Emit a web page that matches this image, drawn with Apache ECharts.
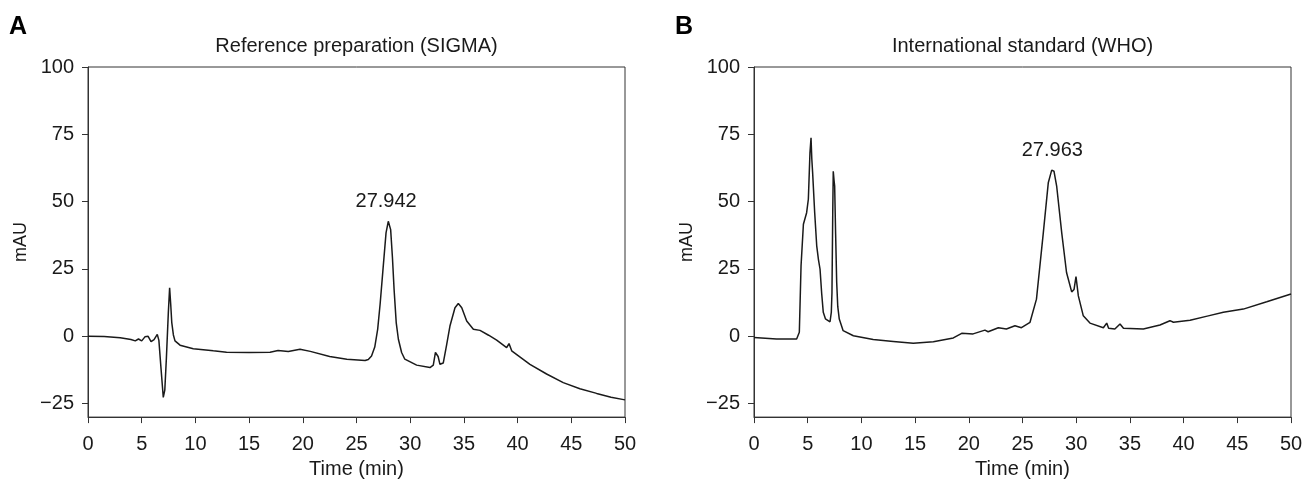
<!DOCTYPE html>
<html>
<head>
<meta charset="utf-8">
<script src="https://cdn.jsdelivr.net/npm/echarts@6/dist/echarts.min.js"></script>
<style>
html,body{margin:0;padding:0;background:#fff;}
#chart{width:1313px;height:484px;}
</style>
</head>
<body>
<div id="chart"></div>
<script>
// ---- Data ----
const panelLetters = ['A', 'B'];
const panelTitles = ['Reference preparation (SIGMA)', 'International standard (WHO)'];
const xTicks = [0, 5, 10, 15, 20, 25, 30, 35, 40, 45, 50];
const yTicks = [-25, 0, 25, 50, 75, 100];

const timeA = [0,1.5,3.0,4.0,4.4,4.7,5.0,5.3,5.6,5.87,6.15,6.45,6.6,6.8,7.01,7.15,7.3,7.48,7.6,7.7,7.8,7.95,8.1,8.57,9.8,11.67,12.9,15,16.95,17.7,18.65,19.74,20.7,22.5,24.1,25.8,26.1,26.4,26.7,26.97,27.2,27.45,27.75,27.96,28.18,28.35,28.5,28.7,28.9,29.2,29.5,30.6,31.84,32.15,32.35,32.46,32.6,32.77,33.08,33.4,33.7,34.17,34.48,34.8,35.26,35.88,36.5,37.3,38.05,38.98,39.2,39.45,41.15,42.7,44.25,45.8,47.36,48.7,50];
const mauA  = [0,-0.1,-0.5,-1.2,-1.7,-1.0,-1.7,-0.2,0,-2.0,-1.2,0.7,-1.5,-12,-22.7,-20,-8,8.8,18.0,12,5.1,0.5,-1.7,-3.3,-4.6,-5.4,-5.9,-6.0,-5.9,-5.3,-5.6,-4.8,-5.6,-7.5,-8.5,-9.0,-8.6,-7.3,-4.0,2.6,12,24,38.4,42.7,39.6,29,17.4,5,-1.1,-6,-8.5,-10.7,-11.6,-10.7,-6,-5.4,-7.5,-10.4,-9.9,-3,3.8,10.6,12.2,10.6,5.7,2.6,2.2,0.4,-1.4,-4.2,-2.7,-5.4,-10.4,-14,-17.2,-19.5,-21.2,-22.6,-23.6];

const timeB = [0,2.1,3.97,4.22,4.38,4.6,4.9,5.06,5.21,5.31,5.38,5.46,5.65,5.84,6.0,6.15,6.3,6.45,6.65,6.83,7.08,7.2,7.26,7.33,7.38,7.45,7.51,7.6,7.7,7.8,7.94,8.3,9.25,11.1,12.97,14.83,16.7,18.56,19.34,20.4,21.5,21.8,22.75,23.5,24.3,24.9,25.7,26.3,26.94,27.4,27.72,27.93,28.18,28.65,29.1,29.58,29.8,29.98,30.2,30.66,31.28,32.53,32.84,33.02,33.6,34.08,34.4,36.25,37.8,38.73,39.05,40.6,42.2,43.7,45.56,47.74,50];
const mauB  = [-0.4,-1.0,-1.0,1.5,26.1,41.6,45.9,50.9,68.1,73.7,66,60.7,46,33.6,28.5,24.9,16,8.9,6.5,5.8,5.4,9,16.3,45,61.3,58,55.8,38,20,11,6.4,2.1,0.2,-1.2,-1.9,-2.6,-2.0,-0.6,1.1,0.9,2.3,1.7,3.2,2.7,3.9,3.2,5.2,13.8,38.5,57,61.7,61.3,55.8,38.5,23.7,16.5,17.4,22.2,15,7.6,4.9,3.2,4.9,3.0,2.7,4.6,3.0,2.7,4.2,5.8,5.2,6.0,7.5,8.9,10.1,12.8,15.7];

const peakLabels = ['27.942', '27.963'];
const peakTimes  = [27.942, 27.963];
const peakValues = [42.7, 61.7];

// ---- Chart ----
const FONT = "'Liberation Sans', Arial, Helvetica, sans-serif";
const INK = '#1a1a1a';
const AX = '#333';

const lefts = [88, 754];
const plotW = 537;

function pairs(t, v) { return t.map((x, i) => [x, v[i]]); }
const seriesData = [pairs(timeA, mauA), pairs(timeB, mauB)];

const grids = [], xAxes = [], yAxes = [], series = [], graphics = [];
for (let i = 0; i < 2; i++) {
  grids.push({
    left: lefts[i], width: plotW, top: 67, height: 351,
    show: true, borderColor: AX, borderWidth: 1, backgroundColor: 'transparent'
  });
  xAxes.push({
    type: 'value', gridIndex: i, min: 0, max: 50, interval: 5,
    name: 'Time (min)', nameLocation: 'middle', nameGap: 40,
    nameTextStyle: { fontFamily: FONT, fontSize: 20, color: INK },
    axisLine: { show: true, onZero: false, lineStyle: { color: AX, width: 1 } },
    axisTick: { show: true, inside: false, length: 6, lineStyle: { color: AX } },
    axisLabel: { fontFamily: FONT, fontSize: 20, color: INK, margin: 17,
      customValues: xTicks },
    splitLine: { show: false }
  });
  yAxes.push({
    type: 'value', gridIndex: i, min: -30, max: 100,
    name: 'mAU', nameLocation: 'middle', nameGap: 58,
    nameTextStyle: { fontFamily: FONT, fontSize: 18, color: INK },
    axisLine: { show: true, onZero: false, lineStyle: { color: AX, width: 1 } },
    axisTick: { show: true, inside: false, length: 6, lineStyle: { color: AX }, customValues: yTicks },
    axisLabel: { fontFamily: FONT, fontSize: 20, color: INK, margin: 14, customValues: yTicks,
      formatter: v => String(v).replace('-', '\u2212') },
    splitLine: { show: false }
  });
  series.push({
    type: 'line', xAxisIndex: i, yAxisIndex: i,
    data: seriesData[i], showSymbol: false, symbol: 'none', smooth: false,
    lineStyle: { color: INK, width: 1.5 },
    silent: true, animation: false,
    markPoint: {
      symbol: 'circle', symbolSize: 1, itemStyle: { color: 'rgba(0,0,0,0)' },
      label: { show: true, position: 'top', distance: 9, formatter: peakLabels[i],
        fontFamily: FONT, fontSize: 20, color: INK, offset: [-2, 0] },
      data: [{ coord: [peakTimes[i], peakValues[i]] }],
      animation: false
    }
  });
  graphics.push({
    type: 'text', x: lefts[i] + plotW / 2, y: 46,
    style: { text: panelTitles[i], fontFamily: FONT, fontSize: 20, fill: INK,
      textAlign: 'center', textVerticalAlign: 'middle', align: 'center', verticalAlign: 'middle' }
  });
  graphics.push({
    type: 'text', x: i === 0 ? 9 : 675, y: 15,
    style: { text: panelLetters[i], fontFamily: FONT, fontSize: 25, fontWeight: 'bold', fill: '#000' }
  });
}

const chart = echarts.init(document.getElementById('chart'), null, { renderer: 'canvas' });
chart.setOption({
  animation: false,
  backgroundColor: '#fff',
  grid: grids, xAxis: xAxes, yAxis: yAxes, series: series,
  graphic: graphics
});
</script>
</body>
</html>
